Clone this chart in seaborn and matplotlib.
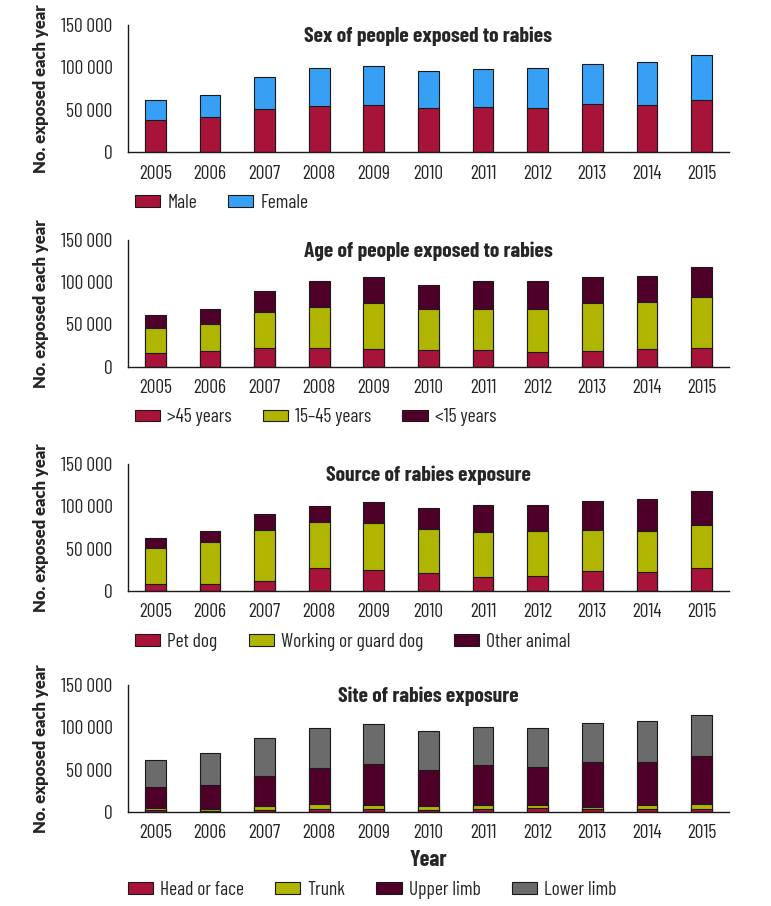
import numpy as np
import pandas as pd
import seaborn as sns
import matplotlib.pyplot as plt
from matplotlib.patches import Patch

# ==================== DATA ====================

years = ["2005", "2006", "2007", "2008", "2009", "2010",
         "2011", "2012", "2013", "2014", "2015"]

# sex
male = [37500, 41000, 51000, 54500, 56000, 51500, 53500, 52500, 57000, 56000, 61000]
female = [24500, 27000, 38000, 44500, 46000, 44500, 45000, 46500, 47000, 50000, 53500]

# age
age_over45 = [16700, 18300, 22600, 22000, 21400, 19800, 19800, 17900, 18300, 20600, 21800]
age_15_45 = [29300, 32700, 41700, 48600, 54400, 48900, 48100, 50400, 56700, 56400, 60700]
age_under15 = [15500, 17700, 25700, 30400, 29800, 28100, 32900, 33300, 31300, 30500, 35800]

# source
pet_dog = [8700, 8700, 12300, 27300, 24900, 21000, 16600, 17400, 23300, 22500, 27300]
working_dog = [41900, 49400, 59700, 54100, 55700, 52500, 53000, 53000, 49000, 48600, 50200]
other_animal = [12200, 12700, 18900, 19400, 24900, 24900, 31600, 30800, 34000, 38000, 40300]

# site
head_face = [2000, 1500, 2000, 3500, 3500, 2000, 3500, 5000, 4000, 4000, 4000]
trunk = [3000, 2000, 4500, 6500, 5200, 5000, 5200, 3000, 2300, 4700, 6000]
upper_limb = [24600, 28100, 35800, 41400, 48300, 42400, 47400, 44600, 52200, 49800, 56000]
lower_limb = [31700, 37600, 45100, 47800, 46600, 45900, 43900, 46200, 47000, 48600, 49000]

RED = "#A8133A"
BLUE = "#37A0F5"
OLIVE = "#AFB500"
MAROON = "#4E0029"
GREY = "#6B6B6B"

panels = [
    ("Sex of people exposed to rabies", [male, female], ["Male", "Female"], [RED, BLUE]),
    ("Age of people exposed to rabies", [age_over45, age_15_45, age_under15],
     [">45 years", "15\u201345 years", "<15 years"], [RED, OLIVE, MAROON]),
    ("Source of rabies exposure", [pet_dog, working_dog, other_animal],
     ["Pet dog", "Working or guard dog", "Other animal"], [RED, OLIVE, MAROON]),
    ("Site of rabies exposure", [head_face, trunk, upper_limb, lower_limb],
     ["Head or face", "Trunk", "Upper limb", "Lower limb"], [RED, OLIVE, MAROON, GREY]),
]

# ==================== PLOT ====================

sns.set_style("white")
cond = ["Barlow Condensed", "Roboto Condensed", "Lato", "DejaVu Sans"]
plt.rcParams["font.family"] = cond

fig = plt.figure(figsize=(7.71, 9.06), dpi=100)

bottoms = [0.8322, 0.5953, 0.3477, 0.1038]
legend_pos = [(0.012, -0.40), (0.012, -0.40), (0.012, -0.40), (0.0, -0.614)]

for (title, series, labels, colors), bot, lpos in zip(panels, bottoms, legend_pos):
    ax = fig.add_axes([0.166, bot, 0.7795, 0.140])
    cum = np.cumsum(np.array(series), axis=0)
    # tallest first so the lower segments are drawn over it
    for i in range(len(series) - 1, -1, -1):
        df = pd.DataFrame({"year": years, "value": cum[i]})
        sns.barplot(data=df, x="year", y="value", color=colors[i], saturation=1,
                    width=0.38, edgecolor="#1a1a1a", linewidth=0.8, ax=ax)

    ax.set_xlim(-0.5, 10.5)
    ax.set_ylim(0, 150000)
    ax.set_yticks([0, 50000, 100000, 150000])
    ax.set_yticklabels(["0", "50\u2009000", "100\u2009000", "150\u2009000"], fontsize=14)
    ax.set_xticks(range(len(years)))
    ax.set_xticklabels(years, fontsize=14)
    ax.set_xticks(np.arange(-0.5, 11, 1), minor=True)
    ax.tick_params(axis="x", which="major", length=0, pad=9)
    ax.tick_params(axis="x", which="minor", length=5.5, width=1, direction="out", color="#1a1a1a")
    ax.tick_params(axis="y", length=9, width=1, direction="out", color="#1a1a1a", pad=2)
    sns.despine(ax=ax)
    for s in ("left", "bottom"):
        ax.spines[s].set_color("#1a1a1a")
        ax.spines[s].set_linewidth(1)
    ax.set_xlabel("")
    ax.set_ylabel("No. exposed each year", family=["Lato", "DejaVu Sans"],
                  fontweight="heavy", fontsize=12)
    ax.yaxis.set_label_coords(-0.131, 0.5)

    ax.text(0.5, 0.913, title, transform=ax.transAxes, ha="center", va="center",
            fontsize=15.5, fontweight="bold")

    handles = [Patch(facecolor=c, edgecolor="#1a1a1a", linewidth=0.8) for c in colors]
    ax.legend(handles, labels, loc="center left", bbox_to_anchor=lpos, ncol=len(labels),
              frameon=False, fontsize=14, handlelength=1.3, handleheight=0.55,
              handletextpad=0.35, columnspacing=1.6, borderaxespad=0, borderpad=0)

ax.set_xlabel("Year", fontsize=16, fontweight="bold")
ax.xaxis.set_label_coords(0.5, -0.30)

plt.savefig("out.png", dpi=100)
plt.close()
